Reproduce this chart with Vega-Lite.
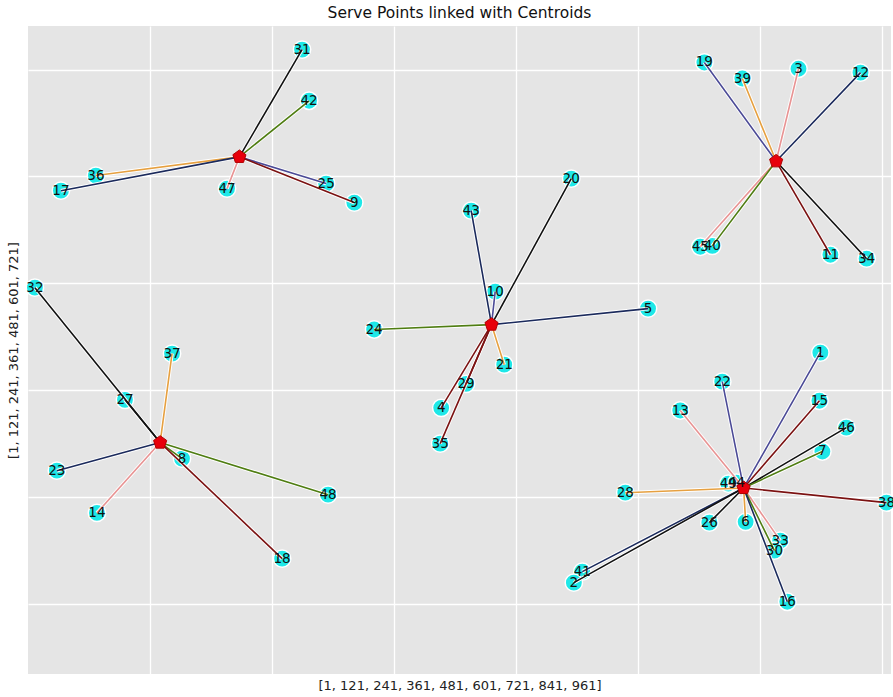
{
  "$schema": "https://vega.github.io/schema/vega-lite/v6.json",
  "width": 863,
  "height": 648,
  "autosize": {"type": "none"},
  "padding": {"left": 28, "top": 26, "right": 2, "bottom": 23},
  "background": "white",
  "title": {"text": "Serve Points linked with Centroids", "font": "DejaVu Sans", "fontSize": 15.5, "fontWeight": "normal", "color": "#111111", "anchor": "middle", "offset": 5},
  "datasets": {
    "pts": [
      {"id": 31, "x": 270.6, "y": 623.5, "cx": 209, "cy": 503, "c": "black"},
      {"id": 42, "x": 277.5, "y": 566, "cx": 209, "cy": 503, "c": "olive"},
      {"id": 36, "x": 67.8, "y": 482, "cx": 209, "cy": 503, "c": "orange"},
      {"id": 17, "x": 33.4, "y": 465, "cx": 209, "cy": 503, "c": "navy"},
      {"id": 47, "x": 196.8, "y": 467.3, "cx": 209, "cy": 503, "c": "coral"},
      {"id": 25, "x": 294.3, "y": 473, "cx": 209, "cy": 503, "c": "slate"},
      {"id": 9, "x": 322, "y": 451.6, "cx": 209, "cy": 503, "c": "maroon"},
      {"id": 19, "x": 666.4, "y": 609, "cx": 737, "cy": 498, "c": "slate"},
      {"id": 39, "x": 703.8, "y": 591, "cx": 737, "cy": 498, "c": "orange"},
      {"id": 3, "x": 759, "y": 602, "cx": 737, "cy": 498, "c": "coral"},
      {"id": 12, "x": 820, "y": 597.6, "cx": 737, "cy": 498, "c": "navy"},
      {"id": 45, "x": 662.4, "y": 402, "cx": 737, "cy": 498, "c": "coral"},
      {"id": 40, "x": 674.2, "y": 403, "cx": 737, "cy": 498, "c": "olive"},
      {"id": 11, "x": 790.4, "y": 393, "cx": 737, "cy": 498, "c": "maroon"},
      {"id": 34, "x": 826, "y": 388.6, "cx": 737, "cy": 498, "c": "black"},
      {"id": 20, "x": 535.4, "y": 478.5, "cx": 457, "cy": 314.5, "c": "black"},
      {"id": 43, "x": 437, "y": 442.6, "cx": 457, "cy": 314.5, "c": "navy"},
      {"id": 10, "x": 460.6, "y": 351.6, "cx": 457, "cy": 314.5, "c": "slate"},
      {"id": 5, "x": 611, "y": 332.5, "cx": 457, "cy": 314.5, "c": "navy"},
      {"id": 24, "x": 341.5, "y": 309, "cx": 457, "cy": 314.5, "c": "olive"},
      {"id": 21, "x": 469.5, "y": 269.5, "cx": 457, "cy": 314.5, "c": "orange"},
      {"id": 29, "x": 432, "y": 248, "cx": 457, "cy": 314.5, "c": "maroon"},
      {"id": 4, "x": 407.5, "y": 221, "cx": 457, "cy": 314.5, "c": "maroon"},
      {"id": 35, "x": 406.5, "y": 180.8, "cx": 457, "cy": 314.5, "c": "maroon"},
      {"id": 32, "x": 7.8, "y": 356, "cx": 131, "cy": 182, "c": "black"},
      {"id": 27, "x": 96.4, "y": 230, "cx": 131, "cy": 182, "c": "black"},
      {"id": 37, "x": 142.7, "y": 282, "cx": 131, "cy": 182, "c": "orange"},
      {"id": 23, "x": 29.4, "y": 150.4, "cx": 131, "cy": 182, "c": "navy"},
      {"id": 8, "x": 152.5, "y": 164, "cx": 131, "cy": 182, "c": "olive"},
      {"id": 14, "x": 68.8, "y": 103, "cx": 131, "cy": 182, "c": "coral"},
      {"id": 48, "x": 296.2, "y": 123.5, "cx": 131, "cy": 182, "c": "olive"},
      {"id": 18, "x": 251, "y": 51.6, "cx": 131, "cy": 182, "c": "maroon"},
      {"id": 1, "x": 780.5, "y": 283, "cx": 705, "cy": 131, "c": "slate"},
      {"id": 22, "x": 684, "y": 250.4, "cx": 705, "cy": 131, "c": "slate"},
      {"id": 15, "x": 779.6, "y": 229, "cx": 705, "cy": 131, "c": "maroon"},
      {"id": 13, "x": 642.7, "y": 218, "cx": 705, "cy": 131, "c": "coral"},
      {"id": 46, "x": 806, "y": 198.8, "cx": 705, "cy": 131, "c": "black"},
      {"id": 7, "x": 782.5, "y": 172, "cx": 705, "cy": 131, "c": "olive"},
      {"id": 28, "x": 588.6, "y": 125.7, "cx": 705, "cy": 131, "c": "orange"},
      {"id": 38, "x": 845.5, "y": 114.5, "cx": 705, "cy": 131, "c": "maroon"},
      {"id": 26, "x": 671.3, "y": 92, "cx": 705, "cy": 131, "c": "black"},
      {"id": 6, "x": 707, "y": 93, "cx": 705, "cy": 131, "c": "orange"},
      {"id": 33, "x": 741, "y": 71.8, "cx": 705, "cy": 131, "c": "coral"},
      {"id": 30, "x": 735.3, "y": 60.6, "cx": 705, "cy": 131, "c": "olive"},
      {"id": 41, "x": 546.3, "y": 37, "cx": 705, "cy": 131, "c": "navy"},
      {"id": 2, "x": 538, "y": 24.6, "cx": 705, "cy": 131, "c": "black"},
      {"id": 16, "x": 748, "y": 3.2, "cx": 705, "cy": 131, "c": "navy"},
      {"id": 49, "x": 690, "y": 135.8, "cx": 705, "cy": 131, "c": "coral"},
      {"id": 44, "x": 698, "y": 137, "cx": 705, "cy": 131, "c": "slate"}
    ],
    "cents": [
      {"cx": 209, "cy": 503},
      {"cx": 737, "cy": 498},
      {"cx": 457, "cy": 314.5},
      {"cx": 131, "cy": 182},
      {"cx": 705, "cy": 131}
    ]
  },
  "layer": [
    {
      "data": {"name": "pts"},
      "mark": {"type": "point", "shape": "circle", "filled": true, "size": 300, "color": "#1ee8e8", "stroke": "white", "strokeWidth": 1.5, "opacity": 1},
      "encoding": {
        "x": {"field": "x", "type": "quantitative", "title": "[1, 121, 241, 361, 481, 601, 721, 841, 961]", "scale": {"domain": [1, 850], "nice": false, "zero": false}, "axis": {"values": [121, 241, 361, 481, 601, 721, 841], "titlePadding": 5}},
        "y": {"field": "y", "type": "quantitative", "title": "[1, 121, 241, 361, 481, 601, 721]", "scale": {"domain": [-78, 650], "nice": false, "zero": false}, "axis": {"values": [1, 121, 241, 361, 481, 601], "titlePadding": 8}}
      }
    },
    {
      "data": {"name": "pts"},
      "mark": {"type": "rule", "color": "white", "strokeWidth": 3.5},
      "encoding": {
        "x": {"field": "x", "type": "quantitative", "title": "[1, 121, 241, 361, 481, 601, 721, 841, 961]"},
        "y": {"field": "y", "type": "quantitative", "title": "[1, 121, 241, 361, 481, 601, 721]"},
        "x2": {"field": "cx"},
        "y2": {"field": "cy"}
      }
    },
    {
      "data": {"name": "pts"},
      "mark": {"type": "rule", "strokeWidth": 1.6},
      "encoding": {
        "x": {"field": "x", "type": "quantitative", "title": "[1, 121, 241, 361, 481, 601, 721, 841, 961]"},
        "y": {"field": "y", "type": "quantitative", "title": "[1, 121, 241, 361, 481, 601, 721]"},
        "x2": {"field": "cx"},
        "y2": {"field": "cy"},
        "color": {"field": "c", "type": "nominal", "legend": null, "scale": {"domain": ["black", "navy", "slate", "maroon", "olive", "orange", "coral"], "range": ["#111111", "#1b2a5c", "#4b4a96", "#7b1212", "#4f7d12", "#e6a040", "#e89393"]}}
      }
    },
    {
      "data": {"name": "cents"},
      "mark": {"type": "point", "shape": "M0,-1L0.951,-0.309L0.588,0.809L-0.588,0.809L-0.951,-0.309Z", "filled": true, "size": 190, "color": "#e8000b", "stroke": "#b00000", "strokeWidth": 1, "opacity": 1},
      "encoding": {
        "x": {"field": "cx", "type": "quantitative", "title": "[1, 121, 241, 361, 481, 601, 721, 841, 961]"},
        "y": {"field": "cy", "type": "quantitative", "title": "[1, 121, 241, 361, 481, 601, 721]"}
      }
    },
    {
      "data": {"name": "pts"},
      "mark": {"type": "text", "font": "DejaVu Sans", "fontSize": 13.5, "color": "#111111", "align": "center", "baseline": "middle"},
      "encoding": {
        "x": {"field": "x", "type": "quantitative", "title": "[1, 121, 241, 361, 481, 601, 721, 841, 961]"},
        "y": {"field": "y", "type": "quantitative", "title": "[1, 121, 241, 361, 481, 601, 721]"},
        "text": {"field": "id", "type": "nominal"}
      }
    }
  ],
  "config": {
    "view": {"fill": "#e5e5e5", "stroke": null},
    "axis": {"ticks": false, "labels": false, "domain": false, "grid": true, "gridColor": "white", "gridWidth": 1.3, "gridOpacity": 1, "titleFont": "DejaVu Sans", "titleFontSize": 13, "titleFontWeight": "normal", "titleColor": "#222222"}
  }
}
